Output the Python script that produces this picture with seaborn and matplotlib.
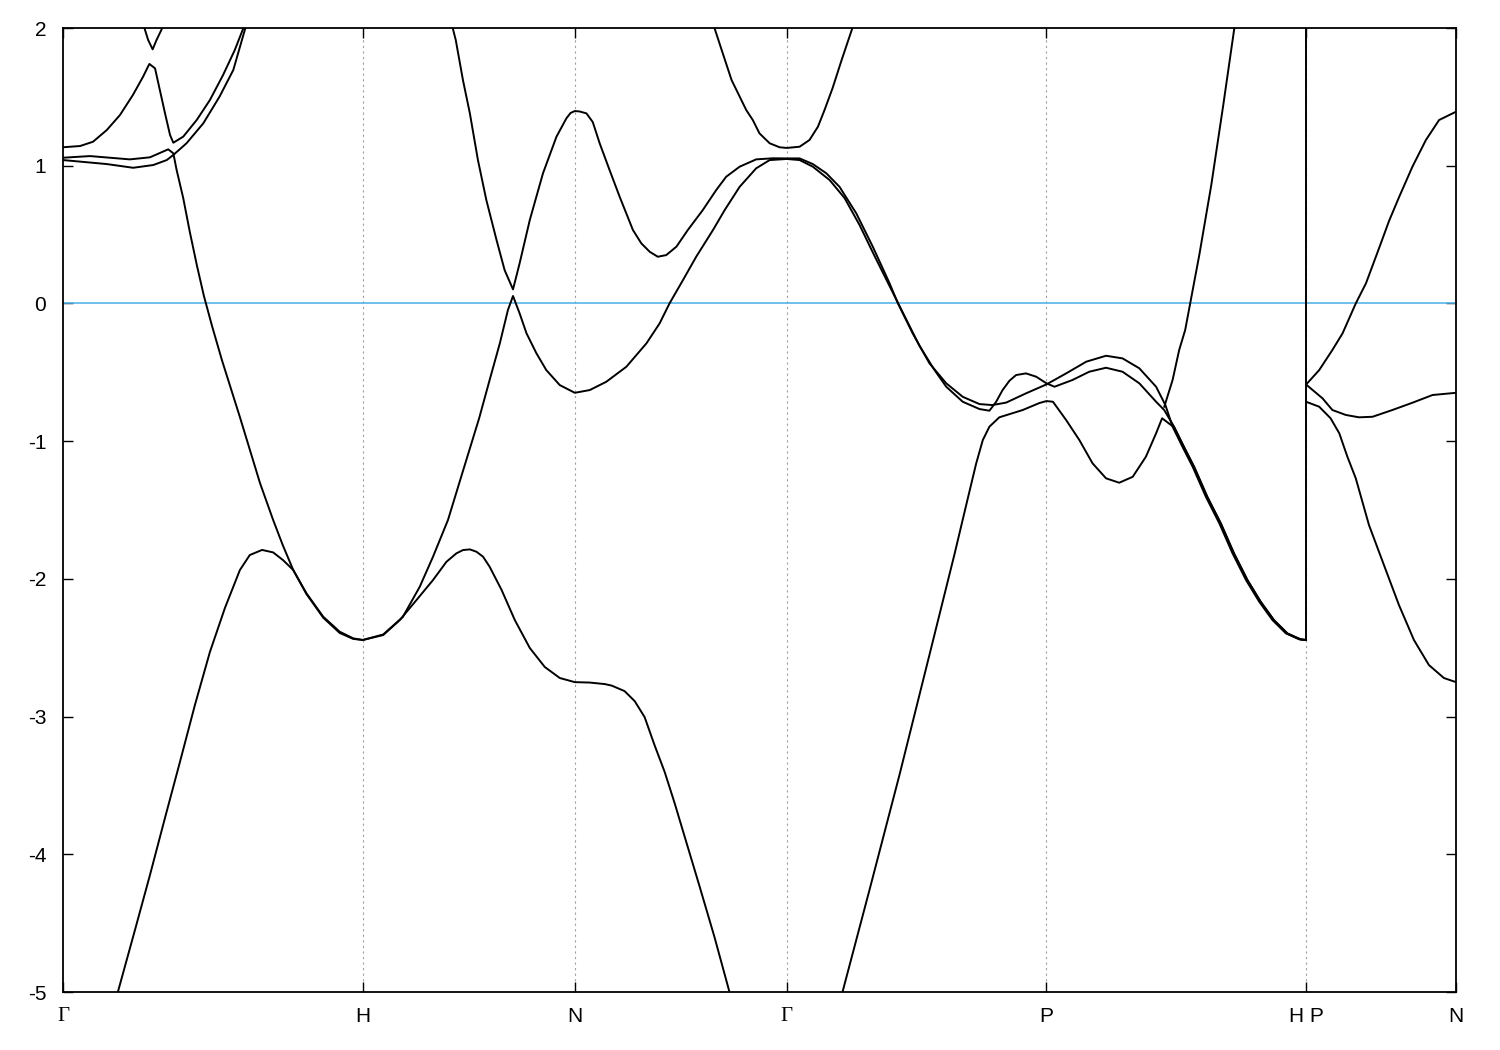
import pandas as pd
import matplotlib
matplotlib.use("Agg")
import matplotlib.pyplot as plt
import seaborn as sns

# high-symmetry points along the bcc path (k in units of 2pi/a)
kpoint_pos = [0.0, 1.0, 1.7071, 2.4142, 3.2802, 4.1463, 4.6463]
kpoint_labels = ['Γ', 'H', 'N', 'Γ', 'P', 'H P', 'N']
yticks = [-5, -4, -3, -2, -1, 0, 1, 2]

# bands: k, E (eV)
# lowest band: G-H rise, hump along H-N, drop along N-G
band_a_k = [0.163, 0.183, 0.24, 0.29, 0.34, 0.39, 0.44, 0.49, 0.54, 0.59, 0.623, 0.664, 0.701, 0.734, 0.768,
            0.812, 0.868, 0.923, 0.968, 1.0,
            1.068, 1.123, 1.179, 1.234, 1.279, 1.312, 1.334, 1.357, 1.379, 1.401, 1.423, 1.463, 1.507, 1.557,
            1.607, 1.657, 1.7071,
            1.757, 1.807, 1.83, 1.873, 1.907, 1.94, 1.973, 2.007, 2.04, 2.073, 2.123, 2.173, 2.223, 2.243]
band_a_E = [-5.167, -5.0, -4.55, -4.151, -3.737, -3.33, -2.916, -2.531, -2.212, -1.936, -1.827, -1.79, -1.808,
            -1.864, -1.936, -2.11, -2.282, -2.393, -2.436, -2.444,
            -2.408, -2.3, -2.154, -2.009, -1.876, -1.815, -1.791, -1.786, -1.803, -1.839, -1.912, -2.081, -2.299,
            -2.502, -2.64, -2.72, -2.75,
            -2.753, -2.764, -2.775, -2.815, -2.888, -3.004, -3.207, -3.403, -3.628, -3.868, -4.231, -4.601, -5.0,
            -5.153]

# band crossing E_F on G-H, H-N, N-G and G-P
band_b_k = [0.0, 0.09, 0.223, 0.29, 0.351, 0.368, 0.379, 0.401, 0.423, 0.447, 0.47, 0.497, 0.53, 0.59, 0.657,
            0.701, 0.733, 0.768, 0.812, 0.868, 0.923, 0.968, 1.0,
            1.068, 1.133, 1.19, 1.234, 1.284, 1.333, 1.388, 1.423, 1.457, 1.484, 1.501, 1.523, 1.546, 1.579, 1.612,
            1.657, 1.7071,
            1.757, 1.812, 1.879, 1.946, 1.99, 2.023, 2.068, 2.112, 2.168, 2.207, 2.257, 2.312, 2.357, 2.4142,
            2.457, 2.501, 2.557, 2.607, 2.657, 2.707, 2.757, 2.807, 2.857, 2.907, 2.946, 3.001, 3.057, 3.09, 3.112,
            3.134, 3.157, 3.179, 3.212, 3.246, 3.2802,
            3.307, 3.367, 3.423, 3.479, 3.534, 3.59, 3.646, 3.673, 3.706, 3.739, 3.773, 3.817, 3.862, 3.906, 3.951,
            3.995, 4.039, 4.084, 4.128, 4.1463]
band_b_E = [1.058, 1.07, 1.046, 1.061, 1.119, 1.09, 0.969, 0.765, 0.519, 0.272, 0.054, -0.163, -0.411, -0.825,
            -1.304, -1.573, -1.755, -1.936, -2.105, -2.275, -2.384, -2.432, -2.444,
            -2.404, -2.278, -2.057, -1.84, -1.573, -1.224, -0.834, -0.556, -0.29, -0.048, 0.054, -0.072, -0.217,
            -0.362, -0.484, -0.593, -0.649,
            -0.629, -0.569, -0.46, -0.29, -0.145, 0.0, 0.17, 0.339, 0.533, 0.678, 0.847, 0.981, 1.041, 1.049,
            1.041, 0.993, 0.896, 0.765, 0.569, 0.344, 0.126, -0.092, -0.309, -0.484, -0.605, -0.714, -0.767,
            -0.779, -0.716, -0.629, -0.561, -0.52, -0.508, -0.532, -0.58,
            -0.605, -0.556, -0.496, -0.467, -0.496, -0.58, -0.714, -0.774, -0.895, -1.041, -1.186, -1.404, -1.597,
            -1.815, -2.009, -2.166, -2.299, -2.396, -2.439, -2.444]

# upper bands near G on G-H
band_c_k = [0.0, 0.146, 0.234, 0.301, 0.346, 0.368, 0.412, 0.468, 0.522, 0.568, 0.607, 0.613]
band_c_E = [1.041, 1.012, 0.985, 1.005, 1.041, 1.078, 1.163, 1.308, 1.501, 1.695, 1.99, 2.04]

band_d_k = [0.0, 0.057, 0.1, 0.146, 0.19, 0.233, 0.267, 0.288, 0.307, 0.323, 0.34, 0.357, 0.368, 0.401, 0.446,
            0.49, 0.534, 0.573, 0.599, 0.61]
band_d_E = [1.134, 1.143, 1.174, 1.259, 1.368, 1.513, 1.646, 1.739, 1.707, 1.55, 1.383, 1.223, 1.167, 1.211,
            1.332, 1.477, 1.659, 1.84, 1.985, 2.04]

band_e_k = [0.267, 0.273, 0.284, 0.299, 0.312, 0.329, 0.337]
band_e_E = [2.058, 1.99, 1.913, 1.845, 1.913, 1.99, 2.058]

# band coming down on H-N, up to 1.4 at N, dip on N-G, down on G-P, hump on P-H
band_f_k = [1.293, 1.31, 1.334, 1.357, 1.384, 1.412, 1.446, 1.473, 1.501, 1.523, 1.557, 1.601, 1.646, 1.679,
            1.693, 1.7071,
            1.723, 1.746, 1.767, 1.79, 1.823, 1.857, 1.901, 1.929, 1.957, 1.984, 2.012, 2.046, 2.084, 2.134, 2.179,
            2.212, 2.257, 2.312, 2.368, 2.4142,
            2.457, 2.501, 2.546, 2.59, 2.646, 2.701, 2.757, 2.785, 2.834, 2.89, 2.946, 3.001, 3.057, 3.1, 3.146,
            3.212, 3.2802,
            3.346, 3.413, 3.479, 3.534, 3.59, 3.646, 3.677, 3.701, 3.734, 3.768, 3.812, 3.857, 3.901, 3.946, 3.99,
            4.034, 4.079, 4.123, 4.1463]
band_f_E = [2.058, 1.913, 1.622, 1.381, 1.041, 0.751, 0.461, 0.242, 0.102, 0.291, 0.606, 0.945, 1.211, 1.344,
            1.383, 1.397,
            1.394, 1.38, 1.317, 1.163, 0.969, 0.773, 0.533, 0.436, 0.375, 0.339, 0.351, 0.412, 0.533, 0.678, 0.824,
            0.92, 0.993, 1.046, 1.054, 1.053,
            1.053, 1.012, 0.945, 0.847, 0.654, 0.412, 0.146, 0.0, -0.217, -0.435, -0.58, -0.678, -0.731, -0.738,
            -0.72, -0.653, -0.588,
            -0.508, -0.423, -0.38, -0.399, -0.471, -0.605, -0.738, -0.895, -1.041, -1.186, -1.404, -1.597, -1.815,
            -2.009, -2.166, -2.299, -2.396, -2.439, -2.444]

# band with minimum 1.13 eV at G
band_g_k = [2.167, 2.173, 2.197, 2.23, 2.279, 2.301, 2.323, 2.357, 2.39, 2.4142, 2.457, 2.49, 2.518, 2.54, 2.567,
            2.597, 2.633, 2.643]
band_g_E = [2.058, 2.0, 1.84, 1.622, 1.404, 1.331, 1.235, 1.163, 1.134, 1.129, 1.138, 1.187, 1.283, 1.404, 1.564,
            1.767, 2.0, 2.058]

# band rising from below on G-P, dip on P-H
band_h_k = [2.583, 2.6, 2.69, 2.79, 2.89, 2.973, 3.018, 3.046, 3.068, 3.09, 3.123, 3.201, 3.257, 3.2802,
            3.302, 3.346, 3.39, 3.434, 3.479, 3.523, 3.568, 3.612, 3.646, 3.666, 3.706, 3.739, 3.773, 3.817, 3.862,
            3.906, 3.951, 3.995, 4.039, 4.084, 4.128, 4.1463]
band_h_E = [-5.131, -5.0, -4.259, -3.424, -2.552, -1.826, -1.415, -1.161, -0.992, -0.895, -0.827, -0.774, -0.723,
            -0.709,
            -0.714, -0.847, -0.992, -1.161, -1.27, -1.302, -1.259, -1.113, -0.943, -0.834, -0.9, -1.045, -1.19,
            -1.408, -1.6, -1.818, -2.012, -2.168, -2.3, -2.397, -2.44, -2.444]

# steep band on P-H
band_i_k = [3.673, 3.701, 3.723, 3.743, 3.79, 3.83, 3.87, 3.907, 3.912]
band_i_E = [-0.752, -0.556, -0.338, -0.193, 0.351, 0.859, 1.44, 2.0, 2.058]

# jump at H|P
band_j_k = [4.1463, 4.1463]
band_j_E = [-2.444, 2.1]

# P-N
band_k_k = [4.1463, 4.19, 4.234, 4.268, 4.312, 4.346, 4.39, 4.423, 4.457, 4.501, 4.546, 4.59, 4.6463]
band_k_E = [-0.589, -0.484, -0.338, -0.217, 0.0, 0.146, 0.403, 0.599, 0.775, 0.993, 1.187, 1.332, 1.392]

band_l_k = [4.1463, 4.201, 4.234, 4.279, 4.323, 4.368, 4.434, 4.501, 4.568, 4.6463]
band_l_E = [-0.589, -0.689, -0.774, -0.81, -0.827, -0.823, -0.774, -0.721, -0.665, -0.649]

band_m_k = [4.1463, 4.19, 4.228, 4.257, 4.284, 4.312, 4.356, 4.406, 4.456, 4.506, 4.556, 4.606, 4.6463]
band_m_E = [-0.714, -0.75, -0.834, -0.943, -1.113, -1.27, -1.609, -1.9, -2.19, -2.444, -2.626, -2.72, -2.75]

bands = [
    ('a', band_a_k, band_a_E), ('b', band_b_k, band_b_E), ('c', band_c_k, band_c_E),
    ('d', band_d_k, band_d_E), ('e', band_e_k, band_e_E), ('f', band_f_k, band_f_E),
    ('g', band_g_k, band_g_E), ('h', band_h_k, band_h_E), ('i', band_i_k, band_i_E),
    ('j', band_j_k, band_j_E), ('k', band_k_k, band_k_E), ('l', band_l_k, band_l_E),
    ('m', band_m_k, band_m_E),
]
df = pd.concat([pd.DataFrame({'k': k, 'E': e, 'band': name}) for name, k, e in bands], ignore_index=True)

sns.set_theme(style="white")
plt.rcParams['font.family'] = ['Liberation Sans', 'DejaVu Sans']
plt.rcParams['axes.unicode_minus'] = False

fig = plt.figure(figsize=(15, 10.5), dpi=100)
ax = fig.add_axes([63 / 1500, 1 - 992 / 1050, (1456 - 63) / 1500, (992 - 28) / 1050])

# dotted lines at the inner high-symmetry points, Fermi level
for x in kpoint_pos[1:-1]:
    ax.axvline(x, color='#a0a0a0', lw=0.8, ls=(0, (2, 3)), zorder=0)
ax.axhline(0, color='#56b4e9', lw=1.2, zorder=1)

sns.lineplot(data=df, x='k', y='E', units='band', estimator=None, sort=False,
             color='black', lw=1.4, legend=False, ax=ax)

ax.set_xlim(kpoint_pos[0], kpoint_pos[-1])
ax.set_ylim(-5, 2)
ax.set_xticks(kpoint_pos)
ax.set_xticklabels(kpoint_labels)
ax.set_yticks(yticks)
ax.set_yticklabels([str(v) for v in yticks])
ax.set_xlabel('')
ax.set_ylabel('')
ax.tick_params(axis='y', direction='in', length=7, width=1, left=True, right=True, pad=12,
               labelsize=15, colors='black')
ax.tick_params(axis='x', direction='in', length=7, width=1, bottom=True, top=True, pad=11,
               labelsize=15, colors='black')
# Gamma drawn from a symbol (serif) font as in gnuplot
for lab in ax.get_xticklabels():
    if lab.get_text() == 'Γ':
        lab.set_family(['Liberation Serif', 'DejaVu Serif'])
for s in ax.spines.values():
    s.set_color('black')
    s.set_linewidth(1.3)

plt.savefig('out.png', dpi=100)
